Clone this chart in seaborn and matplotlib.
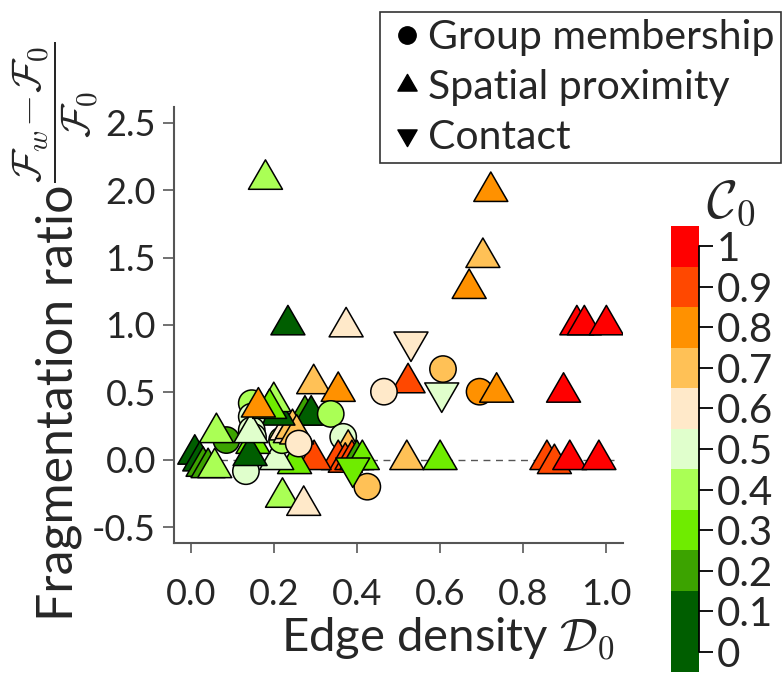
import numpy as np
import pandas as pd
import matplotlib
matplotlib.use("Agg")
import matplotlib.pyplot as plt
import seaborn as sns
from matplotlib.colors import ListedColormap, BoundaryNorm
from matplotlib.cm import ScalarMappable
from matplotlib.lines import Line2D
from matplotlib.markers import MarkerStyle
from matplotlib.path import Path

# ---------------- data ----------------
edge_density = [0.18, 0.234, 0.374, 0.722, 0.703, 0.67, 0.53, 0.929, 0.947, 1.0,
                0.523, 0.465, 0.607, 0.604, 0.695, 0.736, 0.897, 0.296, 0.355, 0.52,
                0.60, 0.857, 0.875, 0.912, 0.982, 0.425, 0.221, 0.272,
                0.275, 0.29, 0.337, 0.367, 0.379, 0.355, 0.372, 0.388, 0.40, 0.413,
                0.39, 0.297, 0.25, 0.207, 0.22, 0.23, 0.24, 0.245, 0.255, 0.26, 0.21,
                0.147, 0.147, 0.147, 0.15, 0.133, 0.15, 0.143,
                0.086, 0.062, 0.01, 0.022, 0.03, 0.042, 0.058, 0.145,
                0.20, 0.19, 0.163]
frag_ratio = [2.08, 1.00, 0.985, 1.99, 1.50, 1.27, 0.875, 1.0, 1.0, 1.0,
              0.57, 0.505, 0.673, 0.497, 0.505, 0.50, 0.50, 0.563, 0.506, 0.0,
              0.0, 0.0, -0.03, 0.0, 0.0, -0.20, -0.28, -0.34,
              0.33, 0.33, 0.34, 0.17, 0.076, 0.0, -0.02, 0.0, 0.0, 0.0,
              -0.06, 0.0, -0.03, 0.0, 0.145, 0.22, 0.20, 0.23, 0.19, 0.12, 0.33,
              0.42, 0.32, 0.22, 0.17, -0.085, 0.12, 0.03,
              0.146, 0.20, 0.04, -0.01, -0.05, -0.06, -0.06, 0.20,
              0.43, 0.38, 0.39]
c0 = [0.4, 0.0, 0.6, 0.8, 0.7, 0.8, 0.6, 1.0, 1.0, 1.0,
      0.9, 0.6, 0.7, 0.5, 0.8, 0.8, 1.0, 0.7, 0.8, 0.7,
      0.3, 0.9, 0.9, 1.0, 1.0, 0.7, 0.4, 0.6,
      0.2, 0.0, 0.4, 0.5, 0.7, 0.9, 0.9, 0.9, 0.2, 0.3,
      0.3, 0.9, 0.3, 0.5, 0.4, 0.6, 0.6, 0.7, 0.7, 0.6, 0.0,
      0.4, 0.5, 0.5, 0.5, 0.5, 0.3, 0.0,
      0.2, 0.4, 0.0, 0.1, 0.2, 0.2, 0.4, 0.5,
      0.4, 0.3, 0.8]
network_type = ["S", "S", "S", "S", "S", "S", "C", "S", "S", "S",
                "S", "G", "G", "C", "G", "S", "S", "S", "S", "S",
                "S", "S", "S", "S", "S", "G", "S", "S",
                "S", "S", "G", "G", "S", "S", "S", "S", "S", "S",
                "C", "S", "S", "S", "G", "S", "S", "S", "S", "G", "S",
                "G", "G", "G", "G", "G", "S", "S",
                "G", "S", "S", "S", "S", "S", "S", "S",
                "S", "S", "S"]

type_labels = ["Group membership", "Spatial proximity", "Contact"]
c0_levels = [0.0, 0.1, 0.2, 0.3, 0.4, 0.5, 0.6, 0.7, 0.8, 0.9, 1.0]
c0_colors = ["#005e00", "#005e00", "#3ca300", "#6fec00", "#aaff55", "#e0ffcc",
             "#ffe9c9", "#ffc156", "#ff9100", "#ff4800", "#ff0000"]
cbar_ticklabels = ["0", "0.1", "0.2", "0.3", "0.4", "0.5", "0.6", "0.7", "0.8", "0.9", "1"]
x_ticks = [0.0, 0.2, 0.4, 0.6, 0.8, 1.0]
y_ticks = [-0.5, 0.0, 0.5, 1.0, 1.5, 2.0, 2.5]

# ---------------- style ----------------
sns.set_style("ticks")
plt.rcParams['font.family'] = ['Lato', 'DejaVu Sans']
plt.rcParams['mathtext.fontset'] = 'cm'
plt.rcParams['axes.unicode_minus'] = False

fig = plt.figure(figsize=(7.84, 6.73), dpi=100)
ax = fig.add_axes([174 / 784, 130 / 673, 449 / 784, 436 / 673])

# markers
h = 2 / np.sqrt(3)
tri_up = Path([(0, h), (-1, -h / 2), (1, -h / 2), (0, h)], closed=True)
tri_dn = Path([(0, -h), (-1, h / 2), (1, h / 2), (0, -h)], closed=True)
marker_map = {"G": "o", "S": MarkerStyle(tri_up), "C": MarkerStyle(tri_dn)}
size_map = {"G": 360, "S": 800, "C": 800}
palette = dict(zip(c0_levels, c0_colors))

df = pd.DataFrame({"D0": edge_density, "ratio": frag_ratio, "C0": c0, "type": network_type})

ax.axhline(0, xmin=0.02, xmax=0.98, color="#555555", lw=1.0, ls=(0, (5, 4)), zorder=1)
sns.scatterplot(data=df, x="D0", y="ratio", hue="C0", palette=palette,
                style="type", markers=marker_map, size="type", sizes=size_map,
                edgecolor="black", linewidth=1.1, legend=False, ax=ax, zorder=3)

ax.set_xlim(-0.04, 1.04)
ax.set_ylim(-0.618, 2.618)
ax.set_xticks(x_ticks)
ax.set_xticklabels([f"{v:.1f}" for v in x_ticks])
ax.set_yticks(y_ticks)
ax.set_yticklabels([f"{v:.1f}" for v in y_ticks])
for s in ["top", "right"]:
    ax.spines[s].set_visible(False)
for s in ["left", "bottom"]:
    ax.spines[s].set_color("#555555")
    ax.spines[s].set_linewidth(1.5)
ax.tick_params(axis="x", direction="out", length=7, width=1.3, color="#666666",
               labelsize=26, pad=18)
ax.tick_params(axis="y", direction="out", length=8, width=1.3, color="#666666",
               labelsize=26, pad=5)

ax.set_xlabel(r"Edge density $\mathcal{D}_0$", fontsize=34)
ax.xaxis.set_label_coords(0.61, -0.165)
ax.set_ylabel("Fragmentation ratio", fontsize=36)
ax.yaxis.set_label_coords(-0.205, 0.322)
fig.text(56 / 784, 1 - 112 / 673,
         r"$\dfrac{\mathcal{F}_w\!-\!\mathcal{F}_0}{\mathcal{F}_0}$",
         fontsize=30, rotation=90, ha="center", va="center")

# ---------------- colorbar ----------------
bounds = [-0.05] + [v + 0.05 for v in c0_levels[1:]]
cmap = ListedColormap(c0_colors[1:])
norm = BoundaryNorm(bounds, cmap.N)
cax = fig.add_axes([671 / 784, 1 / 673, 28 / 784, 446 / 673])
cb = fig.colorbar(ScalarMappable(norm=norm, cmap=cmap), cax=cax,
                  spacing="proportional", ticks=c0_levels)
cb.outline.set_visible(False)
cb.set_ticklabels(cbar_ticklabels)
cax.minorticks_off()
cax.tick_params(which="major", length=10, width=1.3, color="black", labelsize=29, pad=3)
cax.plot([1, 1], [c0_levels[0], c0_levels[-1]], color="black", lw=1.3, clip_on=False)
fig.text(731 / 784, 1 - 203 / 673, r"$\mathcal{C}_0$", fontsize=38,
         ha="center", va="center")

# ---------------- legend ----------------
handles = [Line2D([], [], marker="o", color="black", ls="", markersize=12.5),
           Line2D([], [], marker=MarkerStyle(tri_up), color="black", ls="", markersize=16),
           Line2D([], [], marker=MarkerStyle(tri_dn), color="black", ls="", markersize=16)]
leg = fig.legend(handles, type_labels, loc="upper left",
                 bbox_to_anchor=(380 / 784, 1 - 12 / 673), borderaxespad=0,
                 frameon=True, fancybox=False, edgecolor="black", fontsize=29.5,
                 handlelength=1.0, handletextpad=0.0, borderpad=0.17,
                 labelspacing=0.32)
leg.get_frame().set_linewidth(1.2)

fig.savefig("out.png", dpi=100)
